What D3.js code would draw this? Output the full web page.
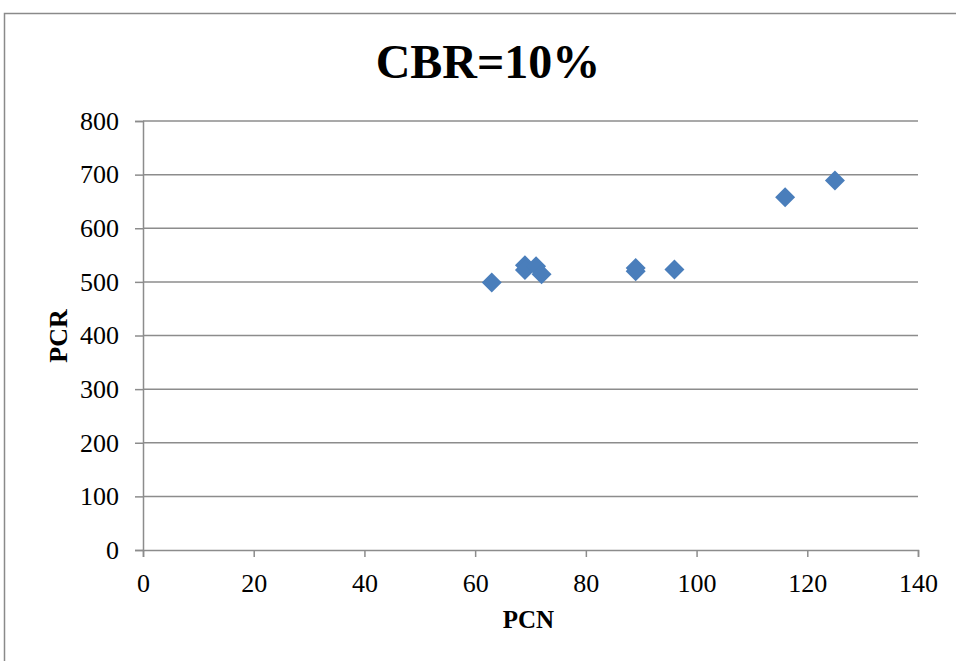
<!DOCTYPE html>
<html>
<head>
<meta charset="utf-8">
<script src="https://cdn.jsdelivr.net/npm/d3@7"></script>
<style>
  body { margin: 0; background: #fff; }
  svg text { font-family: "Liberation Serif", "Times New Roman", serif; fill: #000; }
</style>
</head>
<body>
<div id="chart"></div>
<script>
// Data
const pcn = [63, 69, 69, 71, 72, 89, 89, 96, 116, 125];
const pcr = [499, 531, 522, 529, 514, 526, 520, 523, 658, 689];
const xTicks = [0, 20, 40, 60, 80, 100, 120, 140];
const yTicks = [0, 100, 200, 300, 400, 500, 600, 700, 800];

const data = pcn.map((d, i) => ({x: d, y: pcr[i]}));

const W = 956, H = 661;
const margin = {top: 121, right: 38, bottom: 111, left: 143};
const width = 918 - margin.left;
const height = 550 - margin.top;

const root = d3.select("#chart")
  .append("svg")
  .attr("width", W)
  .attr("height", H);

// chart frame
root.append("rect")
  .attr("x", 4.5)
  .attr("y", 13.5)
  .attr("width", W + 10)
  .attr("height", H + 10)
  .attr("fill", "none")
  .attr("stroke", "#8a8a8a")
  .attr("stroke-width", 1.5);

// title
root.append("text")
  .attr("x", 488)
  .attr("y", 78)
  .attr("text-anchor", "middle")
  .style("font-size", "48px")
  .style("font-weight", "bold")
  .text("CBR=10%");

const svg = root.append("g")
  .attr("transform", `translate(${margin.left},${margin.top})`);

const x = d3.scaleLinear().domain([0, 140]).range([0, width]);
const y = d3.scaleLinear().domain([0, 800]).range([height, 0]);

// horizontal gridlines
svg.append("g")
  .selectAll("line")
  .data(yTicks.filter(d => d > 0))
  .enter()
  .append("line")
  .attr("x1", 0)
  .attr("x2", width)
  .attr("y1", d => y(d))
  .attr("y2", d => y(d))
  .attr("stroke", "#8c8c8c")
  .attr("stroke-width", 1.5);

// x axis
const xAxis = svg.append("g")
  .attr("transform", `translate(0,${height})`)
  .call(d3.axisBottom(x).tickValues(xTicks).tickSize(7).tickPadding(17));
xAxis.select(".domain").attr("stroke", "#8c8c8c").attr("stroke-width", 1.5);
xAxis.selectAll(".tick line").attr("stroke", "#8c8c8c").attr("stroke-width", 1.5);
xAxis.selectAll("text").style("font-size", "26px").style("font-family", "Liberation Serif, serif").attr("fill", "#000");

// y axis
const yAxis = svg.append("g")
  .call(d3.axisLeft(y).tickValues(yTicks).tickSize(8).tickPadding(16));
yAxis.select(".domain").attr("stroke", "#8c8c8c").attr("stroke-width", 1.5);
yAxis.selectAll(".tick line").attr("stroke", "#8c8c8c").attr("stroke-width", 1.5);
yAxis.selectAll("text").style("font-size", "26px").style("font-family", "Liberation Serif, serif").attr("fill", "#000");

// axis titles
svg.append("text")
  .attr("x", width / 2 - 2)
  .attr("y", height + 78)
  .attr("text-anchor", "middle")
  .style("font-size", "25px")
  .style("font-weight", "bold")
  .text("PCN");

svg.append("text")
  .attr("transform", "rotate(-90)")
  .attr("x", -(336 - margin.top))
  .attr("y", -margin.left + 67)
  .attr("text-anchor", "middle")
  .style("font-size", "26px")
  .style("font-weight", "bold")
  .text("PCR");

// diamond markers
const diamond = d3.symbol().type(d3.symbolSquare).size(200);
svg.selectAll(".pt")
  .data(data)
  .enter()
  .append("path")
  .attr("class", "pt")
  .attr("d", diamond)
  .attr("transform", d => `translate(${x(d.x)},${y(d.y)}) rotate(45)`)
  .attr("fill", "#4a7ebb");
</script>
</body>
</html>
